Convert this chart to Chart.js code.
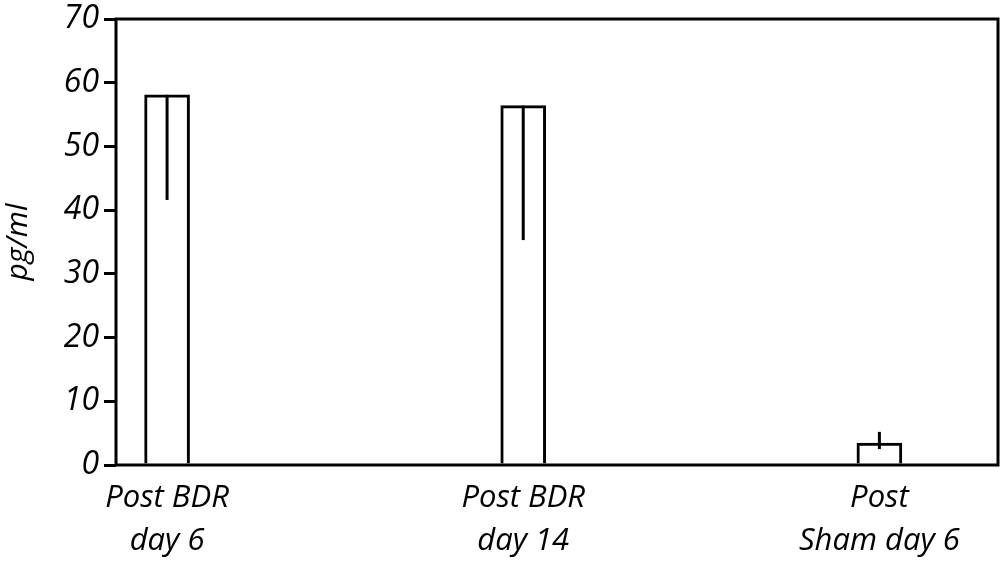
<!DOCTYPE html>
<html>
<head>
<meta charset="utf-8">
<script src="https://cdn.jsdelivr.net/npm/chart.js@4/dist/chart.umd.min.js"></script>
<style>
  html, body { margin: 0; padding: 0; background: #fff; }
  #wrap { width: 1001px; height: 561px; position: relative; }
</style>
</head>
<body>
<div id="wrap"><canvas id="c" width="1001" height="561"></canvas></div>
<script>
// ---- data ----
const categories = [["Post BDR", "day 6"], ["Post BDR", "day 14"], ["Post", "Sham day 6"]];
const positions = [0, 1, 2];
const values = [58.1, 56.4, 3.45];
const errLow = [41.6, 35.3, 2.5];
const errHigh = [58.1, 56.4, 5.2];
const yTicks = [0, 10, 20, 30, 40, 50, 60, 70];
const yTitle = "pg/ml";

const FONT = "'Open Sans', sans-serif";

const framePlugin = {
  id: 'frame',
  afterDatasetsDraw(chart) {
    const ctx = chart.ctx, a = chart.chartArea;
    const xs = chart.scales.x, ys = chart.scales.y;
    ctx.save();
    ctx.strokeStyle = '#000';
    ctx.lineWidth = 3;
    ctx.lineCap = 'butt';
    for (let i = 0; i < values.length; i++) {
      const px = xs.getPixelForValue(positions[i]);
      ctx.beginPath();
      ctx.moveTo(px, ys.getPixelForValue(errLow[i]));
      ctx.lineTo(px, ys.getPixelForValue(errHigh[i]));
      ctx.stroke();
    }
    ctx.strokeRect(a.left, a.top, a.right - a.left, a.bottom - a.top);
    ctx.restore();
  }
};

new Chart(document.getElementById('c'), {
  type: 'bar',
  data: {
    datasets: [{
      data: positions.map((p, i) => ({ x: p, y: values[i] })),
      backgroundColor: '#fff',
      borderColor: '#000',
      borderWidth: 3,
      barThickness: 45
    }]
  },
  options: {
    responsive: false,
    animation: false,
    devicePixelRatio: 1,
    layout: { padding: { top: 19, right: 3, left: 0, bottom: 0 } },
    plugins: { legend: { display: false }, tooltip: { enabled: false } },
    scales: {
      x: {
        type: 'linear',
        offset: false,
        min: -0.1434,
        max: 2.333,
        grid: { display: false, drawTicks: false, offset: false },
        border: { display: false },
        afterBuildTicks: (s) => { s.ticks = positions.map(v => ({ value: v })); },
        afterFit: (s) => { s.height = 96; s.paddingLeft = 0; s.paddingRight = 0; },
        ticks: {
          padding: 12,
          maxRotation: 0,
          autoSkip: false,
          color: '#000',
          font: { family: FONT, size: 31, style: 'italic', lineHeight: 1.37 },
          callback: (v) => categories[positions.indexOf(v)]
        }
      },
      y: {
        min: 0,
        max: 70,
        grid: { drawOnChartArea: false, drawTicks: true, tickLength: 12, lineWidth: 3, color: '#000' },
        border: { display: false },
        afterBuildTicks: (s) => { s.ticks = yTicks.map(v => ({ value: v })); },
        afterFit: (s) => { s.width = 116; s.paddingTop = 0; s.paddingBottom = 0; },
        ticks: {
          padding: 5,
          color: '#000',
          font: { family: FONT, size: 32, style: 'italic' }
        },
        title: {
          display: true,
          text: yTitle,
          color: '#000',
          padding: { top: 0, bottom: 0 },
          font: { family: FONT, size: 30, style: 'italic', lineHeight: 1.2 }
        }
      }
    }
  },
  plugins: [framePlugin]
});
</script>
</body>
</html>
